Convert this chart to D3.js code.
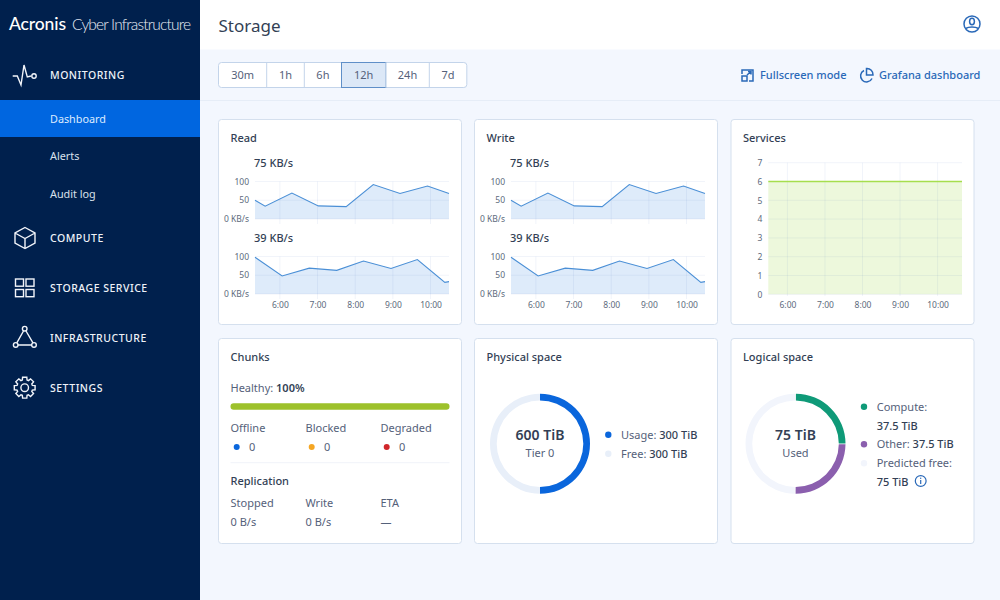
<!DOCTYPE html>
<html>
<head>
<meta charset="utf-8">
<script src="https://cdn.jsdelivr.net/npm/d3@7"></script>
<style>
  html, body { margin: 0; padding: 0; background: #f3f7fe; overflow: hidden; }
  svg { display: block; }
  text { font-family: "Noto Sans", "Open Sans", sans-serif; }
  .axis path { display: none; }
  .axis line { display: none; }
  .axis text { font-size: 8.5px; fill: #5d6a7c; font-family: "Noto Sans", sans-serif; }
</style>
</head>
<body>
<div id="chart"></div>
<script>
// data
var topHours = [5.34, 5.61, 6.32, 7.02, 7.76, 8.48, 9.19, 9.92, 10.49];
var topValues = [50, 34, 69, 35, 33, 92, 68, 88, 68];
var bottomHours = [5.34, 6.06, 6.78, 7.51, 8.22, 8.95, 9.65, 10.38, 10.49];
var bottomValues = [98, 48, 69, 63, 88, 68, 92, 31, 33];
var serviceHours = [5.49, 10.65];
var serviceValues = [6, 6];
var hourTicks = [6, 7, 8, 9, 10];
var rateTicks = [0, 50, 100];
var serviceTicks = [0, 1, 2, 3, 4, 5, 6, 7];
var ranges = ["30m", "1h", "6h", "12h", "24h", "7d"];
var rangeEdges = [218.5, 266.7, 304.3, 341.5, 385.7, 429.3, 466.8];
var physicalValues = [300, 300];
var physicalColors = ["#0a66dc", "#e8eff9"];
var logicalValues = [37.5, 37.5, 75];
var logicalColors = ["#0f9a78", "#8b5fae", "#f2f5fc"];

var ink = "#333f55", soft = "#55617a", link = "#2a69b8";
var gridColor = "rgba(50,100,180,0.07)";

var svg = d3.select("#chart").append("svg").attr("width", 1000).attr("height", 600);

svg.append("rect").attr("width", 1000).attr("height", 600).attr("fill", "#f3f7fe");

// header bands
svg.append("rect").attr("x", 200).attr("width", 800).attr("height", 49.5).attr("fill", "#fff");
svg.append("line").attr("x1", 200).attr("x2", 1000).attr("y1", 100.5).attr("y2", 100.5).attr("stroke", "#e6edf7");

function label(parent, x, y, str, size, color, weight, anchor) {
  return parent.append("text")
    .attr("x", x).attr("y", y)
    .attr("font-size", size + "px")
    .attr("fill", color)
    .attr("font-weight", weight || 400)
    .attr("text-anchor", anchor || "start")
    .text(str);
}

// sidebar
svg.append("rect").attr("width", 200).attr("height", 600).attr("fill", "#00204d");
svg.append("rect").attr("y", 100).attr("width", 200).attr("height", 37).attr("fill", "#0066e0");

label(svg, 9, 29.5, "Acronis", 17.5, "#fff", 500).style("font-family", "Lato, sans-serif").attr("textLength", 57);
label(svg, 72, 29.5, "Cyber Infrastructure", 15.5, "#e8edf5", 300).style("font-family", "Lato, sans-serif").attr("textLength", 119);

var navTop = [["MONITORING", 79], ["COMPUTE", 242], ["STORAGE SERVICE", 292], ["INFRASTRUCTURE", 342], ["SETTINGS", 392]];
navTop.forEach(function(d) {
  label(svg, 50, d[1], d[0], 10.5, "#eef2f8", 500).style("letter-spacing", "0.5px");
});
label(svg, 50, 122.5, "Dashboard", 10.8, "#dcebff");
label(svg, 50, 160, "Alerts", 10.8, "#d9e1ec");
label(svg, 50, 198, "Audit log", 10.8, "#d9e1ec");

var icons = svg.append("g").attr("fill", "none").attr("stroke", "#f2f5fa").attr("stroke-width", 1.4);
icons.append("path").attr("d", "M12.7 76H17.3L21 85L24 65L27.3 77L31 76");
icons.append("circle").attr("cx", 34).attr("cy", 76).attr("r", 2.2);
// cube
icons.append("path").attr("d", "M25 227.5L35 233V243L25 248.5L15 243V233ZM15 233L25 238.5L35 233M25 238.5V248.5");
// squares
[[15.5, 279], [26, 279], [15.5, 289.5], [26, 289.5]].forEach(function(p) {
  icons.append("rect").attr("x", p[0]).attr("y", p[1]).attr("width", 8).attr("height", 7.2);
});
// triangle
icons.append("path").attr("d", "M23.5 331L16.8 342.8M26 331L33 342.8M18 345H32");
[[24.7, 328.7], [15.7, 344.9], [34, 344.9]].forEach(function(p) {
  icons.append("circle").attr("cx", p[0]).attr("cy", p[1]).attr("r", 2.3);
});
// gear
var gearPts = [];
d3.range(8).forEach(function(i) {
  var a = i * Math.PI / 4;
  [[-0.3, 8], [-0.2, 10.6], [0.2, 10.6], [0.3, 8]].forEach(function(o) {
    gearPts.push([24.7 + o[1] * Math.sin(a + o[0]), 387.7 - o[1] * Math.cos(a + o[0])]);
  });
});
icons.append("path").attr("d", d3.line().curve(d3.curveLinearClosed)(gearPts));
icons.append("circle").attr("cx", 24.7).attr("cy", 387.7).attr("r", 3.8);

// title and top links
label(svg, 218.5, 32, "Storage", 17, ink);

var tb = svg.append("g");
tb.append("rect").attr("x", 218.5).attr("y", 62.5).attr("width", 248.3).attr("height", 25).attr("rx", 3)
  .attr("fill", "#fff").attr("stroke", "#c3d4ea");
ranges.forEach(function(r, i) {
  var x0 = rangeEdges[i], x1 = rangeEdges[i + 1];
  if (i > 0 && i < ranges.length) {
    tb.append("line").attr("x1", x0).attr("x2", x0).attr("y1", 62.5).attr("y2", 87.5).attr("stroke", "#c3d4ea");
  }
  if (r == "12h") {
    tb.append("rect").attr("x", x0).attr("y", 62.5).attr("width", x1 - x0).attr("height", 25)
      .attr("fill", "#dce8f7").attr("stroke", "#5f8fc8");
  }
  label(tb, (x0 + x1) / 2, 79, r, 11, soft, 400, "middle");
});

label(svg, 760, 79, "Fullscreen mode", 11, link, 500);
label(svg, 879, 79, "Grafana dashboard", 11, link, 500);

var linkIcons = svg.append("g").attr("fill", "none").attr("stroke", link).attr("stroke-width", 1.5);
linkIcons.append("path").attr("d", "M742 74V70H753V81H749");
linkIcons.append("rect").attr("x", 742).attr("y", 76).attr("width", 5).attr("height", 5);
linkIcons.append("path").attr("d", "M747 75L751 71.5M748 71.5H751V74.5");
linkIcons.append("path").attr("d", "M864 70.5A6 6 0 1 0 872 78.5");
linkIcons.append("path").attr("d", "M866.5 68.5A6 6 0 0 1 873 75H866.5Z");
linkIcons.append("circle").attr("cx", 972).attr("cy", 24).attr("r", 8);
linkIcons.append("ellipse").attr("cx", 972).attr("cy", 21.5).attr("rx", 2.4).attr("ry", 3.2);
linkIcons.append("path").attr("d", "M965.5 28.5C969 26.5 975 26.5 978.5 28.5");

// cards
function card(x, y, title) {
  var g = svg.append("g").attr("transform", "translate(" + x + "," + y + ")");
  g.append("rect").attr("x", 0.5).attr("y", 0.5).attr("width", 243).attr("height", 205).attr("rx", 3)
    .attr("fill", "#fff").attr("stroke", "#d5e0ee");
  label(g, 12.5, 22.5, title, 11, ink, 500);
  return g;
}

function timeChart(g, opts) {
  var x = d3.scaleLinear().domain(opts.xDomain).range([opts.left, opts.right]);
  var y = d3.scaleLinear().domain(opts.yDomain).range([opts.bottom, opts.top]);

  var area = d3.area()
    .x(function(d) { return x(d[0]); })
    .y0(y(0))
    .y1(function(d) { return y(d[1]); });
  var line = d3.line()
    .x(function(d) { return x(d[0]); })
    .y(function(d) { return y(d[1]); });
  var pts = d3.zip(opts.hours, opts.values);

  g.append("path").attr("d", area(pts)).attr("fill", opts.fill);

  // grid goes over the fill, it shows through in the original
  g.selectAll(null).data(opts.yTicks).enter().append("line")
    .attr("x1", opts.left).attr("x2", opts.right)
    .attr("y1", function(d) { return y(d); }).attr("y2", function(d) { return y(d); })
    .attr("stroke", gridColor);
  g.selectAll(null).data(hourTicks).enter().append("line")
    .attr("x1", function(d) { return x(d); }).attr("x2", function(d) { return x(d); })
    .attr("y1", opts.top).attr("y2", opts.gridEnd)
    .attr("stroke", gridColor);

  g.append("path").attr("d", line(pts)).attr("fill", "none").attr("stroke", opts.stroke).attr("stroke-width", opts.strokeWidth || 1.1);

  g.append("g").attr("class", "axis")
    .attr("transform", "translate(" + opts.left + ",0)")
    .call(d3.axisLeft(y).tickValues(opts.yTicks).tickSize(0).tickPadding(6).tickFormat(opts.yFormat));

  if (opts.showX) {
    g.append("g").attr("class", "axis")
      .attr("transform", "translate(0," + opts.bottom + ")")
      .call(d3.axisBottom(x).tickValues(hourTicks).tickSize(0).tickPadding(8)
        .tickFormat(function(d) { return d + ":00"; }));
  }
}

function rateFormat(d) { return d == 0 ? "0 KB/s" : d; }

function rateCard(cx, title) {
  var g = card(cx, 119, title);
  label(g, 36, 47.5, "75 KB/s", 11, ink, 500);
  label(g, 36, 122.5, "39 KB/s", 11, ink, 500);
  var base = {
    xDomain: [5.34, 10.49], left: 37, right: 231, yDomain: [0, 100], yTicks: rateTicks,
    yFormat: rateFormat, fill: "#deebfa", stroke: "#4a8fd6"
  };
  timeChart(g, Object.assign({}, base, { top: 62.5, bottom: 100, gridEnd: 105, hours: topHours, values: topValues, showX: false }));
  timeChart(g, Object.assign({}, base, { top: 137.5, bottom: 175, gridEnd: 180, hours: bottomHours, values: bottomValues, showX: true }));
}

rateCard(218, "Read");
rateCard(474, "Write");

var services = card(730.5, 119, "Services");
timeChart(services, {
  xDomain: [5.49, 10.65], left: 37.8, right: 231.5, top: 43.7, bottom: 175.3, gridEnd: 177,
  yDomain: [0, 7], yTicks: serviceTicks, yFormat: function(d) { return d; },
  hours: serviceHours, values: serviceValues, fill: "#edf8dc", stroke: "#a6de4e", strokeWidth: 1.4, showX: true
});

// Chunks
var chunks = card(218, 338, "Chunks");
var healthy = label(chunks, 12.5, 53.5, "Healthy: ", 11, soft);
healthy.append("tspan").attr("font-weight", 600).attr("fill", ink).text("100%");

var healthScale = d3.scaleLinear().domain([0, 100]).range([0, 219]);
chunks.append("rect").attr("x", 12.5).attr("y", 65.3).attr("width", healthScale(100)).attr("height", 6.4).attr("rx", 3.2).attr("fill", "#9dc12b");

var chunkStates = ["Offline", "Blocked", "Degraded"];
var chunkCounts = [0, 0, 0];
var chunkColors = ["#0a66dc", "#f5a623", "#d0262b"];
chunkStates.forEach(function(s, i) {
  var x = 12.5 + i * 75;
  label(chunks, x, 94, s, 11, soft);
  chunks.append("circle").attr("cx", x + 6.2).attr("cy", 109).attr("r", 3).attr("fill", chunkColors[i]);
  label(chunks, x + 18.5, 113, chunkCounts[i], 11, soft);
});
chunks.append("line").attr("x1", 12.5).attr("x2", 231.5).attr("y1", 124.7).attr("y2", 124.7).attr("stroke", "#f0f3f9");
label(chunks, 12.5, 147, "Replication", 11, ink, 500);
[["Stopped", "0 B/s"], ["Write", "0 B/s"], ["ETA", "—"]].forEach(function(d, i) {
  var x = 12.5 + i * 75;
  label(chunks, x, 169, d[0], 11, soft);
  label(chunks, x, 188, d[1], 11, soft);
});

// donuts
function donut(g, cx, cy, values, colors, pad) {
  var pie = d3.pie().sort(null).padAngle(pad)(values);
  var arc = d3.arc().innerRadius(43.3).outerRadius(50);
  g.append("g").attr("transform", "translate(" + cx + "," + cy + ")")
    .selectAll("path").data(pie).enter().append("path")
    .attr("d", arc)
    .attr("fill", function(d, i) { return colors[i]; });
}

var physical = card(474, 338, "Physical space");
donut(physical, 66, 105.7, physicalValues, physicalColors, 0);
label(physical, 66, 102, "600 TiB", 14, ink, 600, "middle");
label(physical, 66, 119, "Tier 0", 11, soft, 400, "middle");

function legendRow(g, dotColor, x, y, a, b) {
  if (dotColor) g.append("circle").attr("cx", x).attr("cy", y - 3.8).attr("r", 3.2).attr("fill", dotColor);
  var t = label(g, x + 12.7, y, a, 11, soft);
  if (b) t.append("tspan").attr("font-weight", 500).attr("fill", ink).text(b);
}
legendRow(physical, physicalColors[0], 134.3, 100.5, "Usage: ", "300 TiB");
legendRow(physical, physicalColors[1], 134.3, 119.5, "Free: ", "300 TiB");

var logical = card(730.5, 338, "Logical space");
donut(logical, 65, 105.7, logicalValues, logicalColors, 0.012);
label(logical, 65, 102, "75 TiB", 14, ink, 600, "middle");
label(logical, 65, 119, "Used", 11, soft, 400, "middle");

legendRow(logical, logicalColors[0], 133.5, 72.5, "Compute:");
label(logical, 146.2, 91.5, "37.5 TiB", 11, ink, 500);
legendRow(logical, logicalColors[1], 133.5, 110, "Other: ", "37.5 TiB");
legendRow(logical, logicalColors[2], 133.5, 129, "Predicted free:");
label(logical, 146.2, 147.5, "75 TiB", 11, ink, 500);

logical.append("circle").attr("cx", 190.2).attr("cy", 143).attr("r", 5.4).attr("fill", "none").attr("stroke", link).attr("stroke-width", 1.2);
logical.append("line").attr("x1", 190.2).attr("x2", 190.2).attr("y1", 142).attr("y2", 146).attr("stroke", link).attr("stroke-width", 1.2);
logical.append("circle").attr("cx", 190.2).attr("cy", 140.2).attr("r", 0.7).attr("fill", link);
</script>
</body>
</html>
